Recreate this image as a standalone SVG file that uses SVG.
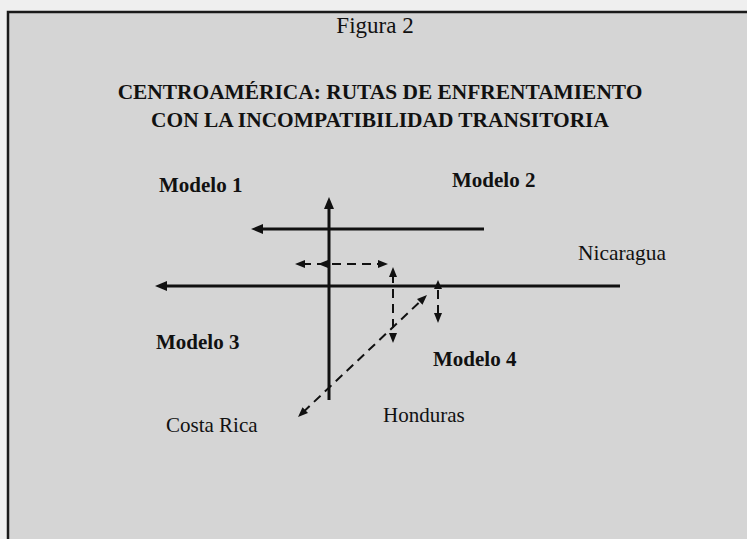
<svg xmlns="http://www.w3.org/2000/svg" width="747" height="539" viewBox="0 0 747 539">
<style>
.bg{fill:#efefef}
.panel{fill:#d5d5d5}
.frame{stroke:#1a1a1a;stroke-width:2.5;fill:none}
.ax{stroke:#111;stroke-width:3;fill:none}
.ds{stroke:#111;stroke-width:2;stroke-dasharray:9 6;fill:none}
.t{font-family:"Liberation Serif","Times New Roman",serif;fill:#111}
.b{font-weight:bold}
.ah{fill:#111}
</style>
<defs>
<marker id="ah" markerUnits="userSpaceOnUse" viewBox="0 0 12 10" markerWidth="12" markerHeight="10" refX="4" refY="5" orient="auto-start-reverse"><path class="ah" d="M0,0 L12,5 L0,10 z"/></marker>
<marker id="dh" markerUnits="userSpaceOnUse" viewBox="0 0 10 8" markerWidth="10" markerHeight="8" refX="3" refY="4" orient="auto-start-reverse"><path class="ah" d="M0,0 L10,4 L0,8 z"/></marker>
</defs>
<rect class="bg" x="0" y="0" width="747" height="539"/>
<rect class="panel" x="8" y="12" width="745" height="532"/>
<path class="frame" d="M8,545 L8,12 L750,12"/>

<g id="title">
<text class="t" x="375" y="33" font-size="23" text-anchor="middle">Figura 2</text>
<text class="t b" x="380" y="99" font-size="21.4" text-anchor="middle">CENTROAMÉRICA: RUTAS DE ENFRENTAMIENTO</text>
<text class="t b" x="380" y="127" font-size="21.4" text-anchor="middle">CON LA INCOMPATIBILIDAD TRANSITORIA</text>
</g>
<g id="modelo1"><text class="t b" x="159" y="192" font-size="21">Modelo 1</text></g>
<g id="modelo2"><text class="t b" x="452" y="187" font-size="21">Modelo 2</text></g>
<g id="modelo3"><text class="t b" x="156" y="349" font-size="21">Modelo 3</text></g>
<g id="modelo4"><text class="t b" x="433" y="366" font-size="21">Modelo 4</text></g>
<g id="nicaragua"><text class="t" x="578" y="260" font-size="21.4">Nicaragua</text></g>
<g id="honduras"><text class="t" x="383" y="422" font-size="21">Honduras</text></g>
<g id="costarica"><text class="t" x="166" y="432" font-size="21">Costa Rica</text></g>

<g id="connectors">
<line class="ax" x1="329" y1="400" x2="329" y2="205" marker-end="url(#ah)"/>
<line class="ax" x1="484" y1="229" x2="259" y2="229" marker-end="url(#ah)"/>
<line class="ax" x1="620" y1="286" x2="163" y2="286" marker-end="url(#ah)"/>
<line class="ds" x1="302" y1="264" x2="381" y2="264" marker-start="url(#dh)" marker-end="url(#dh)"/>
<polygon class="ah" points="318,264 328,260 328,268"/>
<line class="ds" x1="393" y1="274" x2="393" y2="336" marker-start="url(#dh)" marker-end="url(#dh)"/>
<polygon class="ah" points="438,280 434,289 442,289"/>
<line class="ds" x1="438" y1="290" x2="438" y2="316" marker-end="url(#dh)"/>
<line class="ds" x1="303.1" y1="412.2" x2="421.9" y2="299.8" marker-start="url(#dh)" marker-end="url(#dh)"/>
</g>
</svg>
